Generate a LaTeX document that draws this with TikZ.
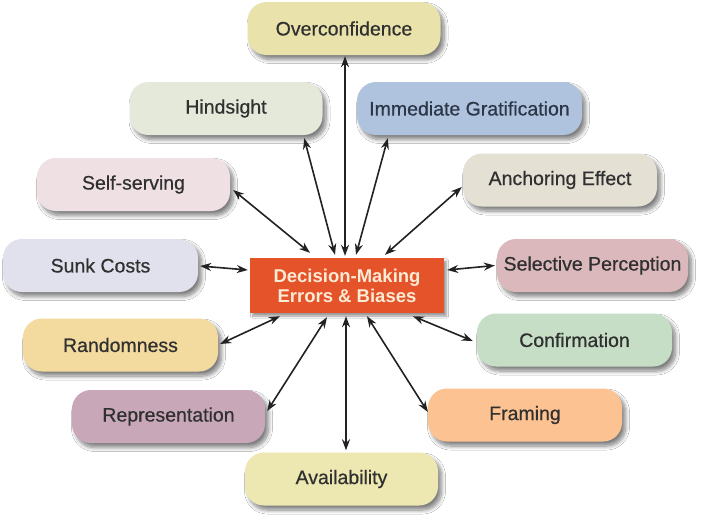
\documentclass[tikz,border=0pt]{standalone}
\usepackage{fontspec}
\setmainfont{Liberation Sans}
\newfontfamily\medfont{Liberation Sans}[FakeBold=0.6]
\usetikzlibrary{calc,shadows.blur,arrows.meta}
\definecolor{cOver}{HTML}{E9E2AA}
\definecolor{cHind}{HTML}{E4E9DA}
\definecolor{cSelf}{HTML}{EFE0E4}
\definecolor{cImm}{HTML}{AFC3DE}
\definecolor{cAnch}{HTML}{E4E0D4}
\definecolor{cSunk}{HTML}{E1E1ED}
\definecolor{cRand}{HTML}{F3DA9F}
\definecolor{cRep}{HTML}{C8A7B9}
\definecolor{cAvail}{HTML}{EDE8B2}
\definecolor{cSel}{HTML}{DAB8BB}
\definecolor{cConf}{HTML}{C6DEC6}
\definecolor{cFram}{HTML}{FCC291}
\definecolor{cCore}{HTML}{E4532A}
\definecolor{cCoreTxt}{HTML}{FCEBD5}
\definecolor{cTxt}{HTML}{303030}
\definecolor{cImmTxt}{HTML}{2C3646}
\definecolor{cArr}{HTML}{222222}
\tikzset{
  bias/.style={rounded corners=19pt, minimum height=53pt, minimum width=193pt,
    inner sep=0pt, text=cTxt, font=\medfont\fontsize{19.5}{22}\selectfont,
    blur shadow={shadow xshift=3.5pt, shadow yshift=-4.5pt, shadow blur steps=8, shadow blur radius=4pt, shadow opacity=50}},
  core/.style={fill=cCore, minimum width=194pt, minimum height=55pt, inner sep=0pt,
    text=cCoreTxt, font=\bfseries\fontsize{18.5}{20}\selectfont, align=center,
    blur shadow={shadow xshift=2.5pt, shadow yshift=-3pt, shadow blur steps=6, shadow opacity=40}},
  arr/.style={{Stealth[length=11pt,width=8pt]}-{Stealth[length=11pt,width=8pt]}, line width=1.6pt, draw=cArr}
}
\begin{document}
\begin{tikzpicture}[x=1pt,y=-1pt]
\useasboundingbox[fill=white] (0,0) rectangle (703,522);
\node[core] (c) at (347,285.5) {Decision-Making\\Errors \& Biases};
\node[bias, fill=cOver] (over) at (344,28.5) {Overconfidence};
\node[bias, fill=cHind] (hind) at (226,108.5) {Hindsight};
\node[bias, fill=cSelf] (self) at (133.5,184.5) {Self-serving};
\node[bias, fill=cImm, minimum width=225pt, text=cImmTxt] (imm) at (469.5,108.5) {Immediate Gratification};
\node[bias, fill=cAnch, minimum width=194pt] (anch) at (560,180) {Anchoring Effect};
\node[bias, fill=cSunk, minimum width=195pt] (sunk) at (100.5,265.5) {Sunk Costs};
\node[bias, fill=cSel, minimum width=191pt] (sel) at (592.5,265.5) {Selective Perception};
\node[bias, fill=cRand, minimum width=195pt] (rand) at (120.5,345) {Randomness};
\node[bias, fill=cRep] (rep) at (168.5,416.5) {Representation};
\node[bias, fill=cAvail] (avail) at (341.5,479) {Availability};
\node[bias, fill=cConf, minimum width=195pt] (conf) at (574.5,340) {Confirmation};
\node[bias, fill=cFram, minimum width=194pt] (fram) at (525,415) {Framing};
% connectors
\draw[arr] ($(over.south)+(1,1)$) -- ($(c.north)+(-2,-2)$);
\draw[arr] ($(hind.south east)+(-18.5,3)$) -- ($(c.north)+(-12,-3)$);
\draw[arr] ($(imm.south west)+(31,3)$) -- ($(c.north)+(9,-3)$);
\draw[arr] ($(self.east)+(3,5.5)$) -- ($(c.north)+(-37,-5)$);
\draw[arr] ($(anch.west)+(-1,7)$) -- ($(c.north)+(38,-3)$);
\draw[arr] ($(sunk.east)+(2,0.5)$) -- ($(c.west)+(-2,-15.5)$);
\draw[arr] ($(c.east)+(3,-15.5)$) -- ($(sel.west)+(-2,0)$);
\draw[arr] ($(rand.east)+(2,-1)$) -- ($(c.south)+(-67,3)$);
\draw[arr] ($(rep.east)+(2,-5.5)$) -- ($(c.south)+(-20,4)$);
\draw[arr] ($(c.south)+(-1,3)$) -- ($(avail.north)+(4.5,-2)$);
\draw[arr] ($(c.south)+(66,3)$) -- ($(conf.west)+(-4,1)$);
\draw[arr] ($(c.south)+(20,3)$) -- ($(fram.west)+(0,-3)$);
\end{tikzpicture}
\end{document}
